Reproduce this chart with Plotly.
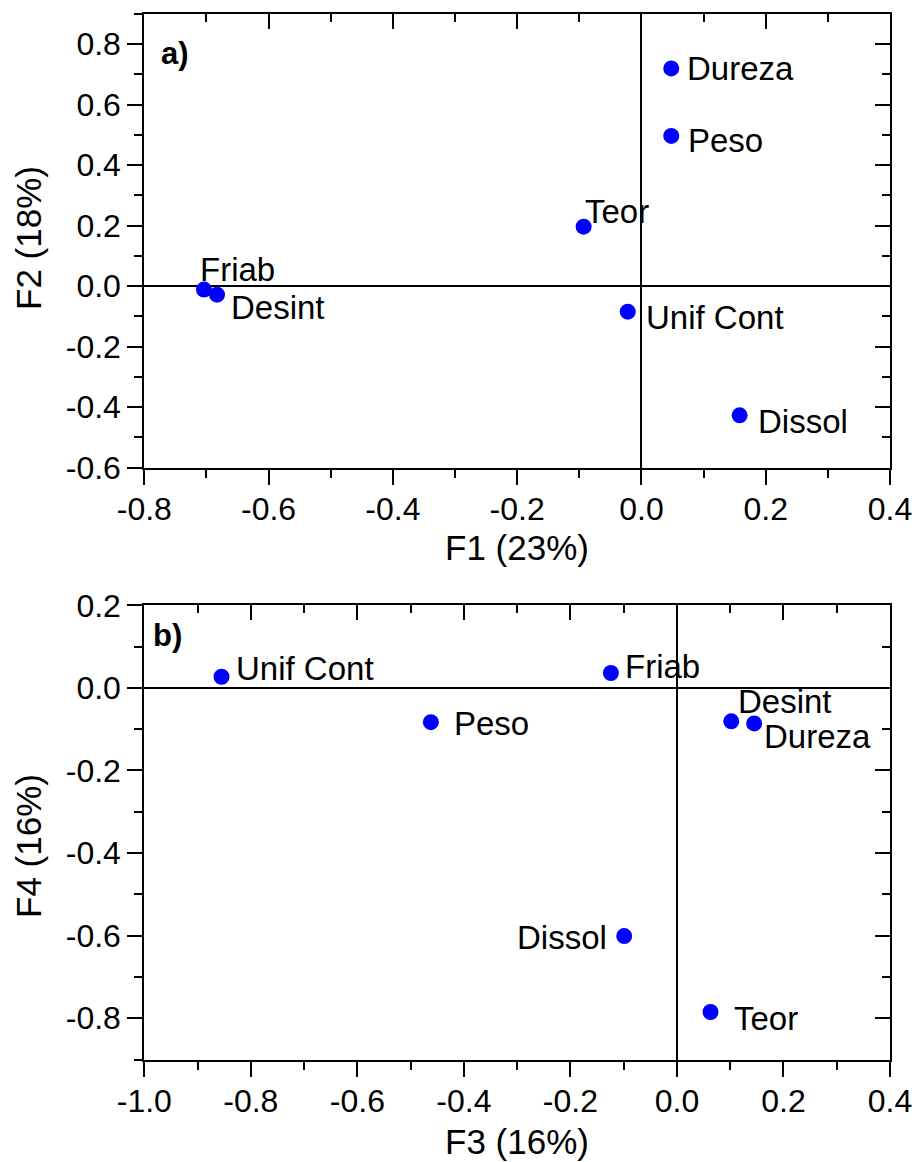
import plotly.graph_objects as go

# ---------------- data ----------------
labels_a = ["Dureza", "Peso", "Teor", "Friab", "Desint", "Unif Cont", "Dissol"]
f1 = [0.048, 0.048, -0.093, -0.704, -0.683, -0.022, 0.158]
f2 = [0.720, 0.497, 0.197, -0.011, -0.028, -0.084, -0.427]

labels_b = ["Unif Cont", "Peso", "Friab", "Desint", "Dureza", "Dissol", "Teor"]
f3 = [-0.855, -0.462, -0.124, 0.102, 0.145, -0.099, 0.063]
f4 = [0.027, -0.083, 0.036, -0.081, -0.086, -0.601, -0.785]

xa_ticks = [-0.8, -0.6, -0.4, -0.2, 0.0, 0.2, 0.4]
xa_text = ["-0.8", "-0.6", "-0.4", "-0.2", "0.0", "0.2", "0.4"]
ya_ticks = [-0.6, -0.4, -0.2, 0.0, 0.2, 0.4, 0.6, 0.8]
ya_text = ["-0.6", "-0.4", "-0.2", "0.0", "0.2", "0.4", "0.6", "0.8"]
xb_ticks = [-1.0, -0.8, -0.6, -0.4, -0.2, 0.0, 0.2, 0.4]
xb_text = ["-1.0", "-0.8", "-0.6", "-0.4", "-0.2", "0.0", "0.2", "0.4"]
yb_ticks = [-0.8, -0.6, -0.4, -0.2, 0.0, 0.2]
yb_text = ["-0.8", "-0.6", "-0.4", "-0.2", "0.0", "0.2"]

# ---------------- styles ----------------
FONT = "Arial, 'Liberation Sans', sans-serif"
W, H = 916, 1162
BLUE = "#0000FF"
TICK_SIZE = 32
LABEL_SIZE = 33
TITLE_SIZE = 35

# label placement (xanchor, dx px, dy px downward)
off_a = {
    "Dureza": ("left", 14, 0),
    "Peso": ("left", 15, 5),
    "Teor": ("left", -1, -15),
    "Friab": ("left", -6, -20),
    "Desint": ("left", 12, 13),
    "Unif Cont": ("left", 16, 6),
    "Dissol": ("left", 16, 6),
}
off_b = {
    "Unif Cont": ("left", 12, -8),
    "Peso": ("left", 21, 1),
    "Friab": ("left", 12, -7),
    "Desint": ("left", 5, -20),
    "Dureza": ("left", 8, 13),
    "Dissol": ("right", -15, 1),
    "Teor": ("left", 21, 6),
}

dom_x = [144.3 / W, 890 / W]
dom_ya = [1 - 467.7 / H, 1 - 14 / H]
dom_yb = [1 - 1059.5 / H, 1 - 605.3 / H]

fig = go.Figure()

fig.add_trace(go.Scatter(x=f1, y=f2, mode="markers", xaxis="x", yaxis="y",
                         marker=dict(color=BLUE, size=16), showlegend=False,
                         text=labels_a, hoverinfo="text"))
fig.add_trace(go.Scatter(x=f3, y=f4, mode="markers", xaxis="x2", yaxis="y2",
                         marker=dict(color=BLUE, size=16), showlegend=False,
                         text=labels_b, hoverinfo="text"))
# empty traces to activate mirrored tick axes
for xa, ya in [("x3", "y3"), ("x4", "y4")]:
    fig.add_trace(go.Scatter(x=[], y=[], xaxis=xa, yaxis=ya, showlegend=False,
                             hoverinfo="skip"))


def main_axis(domain, rng, tv, tt, anchor, standoff=0):
    return dict(domain=domain, range=rng, anchor=anchor, tickmode="array",
                tickvals=tv, ticktext=tt, ticks="outside", ticklen=15,
                tickwidth=2, tickcolor="black", showline=True, linewidth=2,
                linecolor="black", mirror=False, showgrid=False,
                zeroline=True, zerolinecolor="black", zerolinewidth=2,
                automargin=False, ticklabelstandoff=standoff,
                tickfont=dict(family=FONT, size=TICK_SIZE, color="black"),
                minor=dict(tickmode="linear", tick0=0, dtick=0.1,
                           ticks="outside", ticklen=8, tickwidth=2,
                           tickcolor="black", showgrid=False),
                fixedrange=True)


def mirror_axis(rng, tv, overlaying, side, anchor):
    return dict(range=rng, overlaying=overlaying, side=side, anchor=anchor,
                tickmode="array", tickvals=tv, ticks="inside", ticklen=15,
                tickwidth=2, tickcolor="black", showticklabels=False,
                showline=True, linewidth=2, linecolor="black",
                showgrid=False, zeroline=False, automargin=False,
                minor=dict(tickmode="linear", tick0=0, dtick=0.1,
                           ticks="inside", ticklen=8, tickwidth=2,
                           tickcolor="black", showgrid=False),
                fixedrange=True)


fig.update_layout(
    width=W, height=H, margin=dict(l=0, r=0, t=0, b=0, autoexpand=False),
    paper_bgcolor="white", plot_bgcolor="white", showlegend=False,
    font=dict(family=FONT, color="black"),
    xaxis=main_axis(dom_x, [-0.8, 0.4], xa_ticks, xa_text, "y", -3),
    yaxis=main_axis(dom_ya, [-0.6, 0.9], ya_ticks, ya_text, "x"),
    xaxis2=main_axis(dom_x, [-1.0, 0.4], xb_ticks, xb_text, "y2", -3),
    yaxis2=main_axis(dom_yb, [-0.9, 0.2], yb_ticks, yb_text, "x2"),
    xaxis3=mirror_axis([-0.8, 0.4], xa_ticks, "x", "top", "y3"),
    yaxis3=mirror_axis([-0.6, 0.9], ya_ticks, "y", "right", "x3"),
    xaxis4=mirror_axis([-1.0, 0.4], xb_ticks, "x2", "top", "y4"),
    yaxis4=mirror_axis([-0.9, 0.2], yb_ticks, "y2", "right", "x4"),
)

ann = []
for lab, x, y in zip(labels_a, f1, f2):
    xa, dx, dy = off_a[lab]
    ann.append(dict(x=x, y=y, xref="x", yref="y", text=lab, showarrow=False,
                    xanchor=xa, yanchor="middle", xshift=dx, yshift=-dy,
                    font=dict(family=FONT, size=LABEL_SIZE, color="black")))
for lab, x, y in zip(labels_b, f3, f4):
    xa, dx, dy = off_b[lab]
    ann.append(dict(x=x, y=y, xref="x2", yref="y2", text=lab, showarrow=False,
                    xanchor=xa, yanchor="middle", xshift=dx, yshift=-dy,
                    font=dict(family=FONT, size=LABEL_SIZE, color="black")))

# panel letters
ann.append(dict(x=159 / W, y=1 - 54 / H, xref="paper", yref="paper",
                text="<b>a)</b>", showarrow=False, xanchor="left", yanchor="middle",
                font=dict(family=FONT, size=31, color="black")))
ann.append(dict(x=151 / W, y=1 - 635 / H, xref="paper", yref="paper",
                text="<b>b)</b>", showarrow=False, xanchor="left", yanchor="middle",
                font=dict(family=FONT, size=31, color="black")))

# axis titles
title_font = dict(family=FONT, size=TITLE_SIZE, color="black")
ann.append(dict(x=517 / W, y=1 - 547 / H, xref="paper", yref="paper",
                text="F1 (23%)", showarrow=False, xanchor="center", yanchor="middle",
                font=title_font))
ann.append(dict(x=517 / W, y=1 - 1141 / H, xref="paper", yref="paper",
                text="F3 (16%)", showarrow=False, xanchor="center", yanchor="middle",
                font=title_font))
ann.append(dict(x=28 / W, y=1 - 238 / H, xref="paper", yref="paper",
                text="F2 (18%)", showarrow=False, xanchor="center", yanchor="middle",
                textangle=-90, font=title_font))
ann.append(dict(x=28 / W, y=1 - 846 / H, xref="paper", yref="paper",
                text="F4 (16%)", showarrow=False, xanchor="center", yanchor="middle",
                textangle=-90, font=title_font))

fig.update_layout(annotations=ann)
fig.write_html("out.html")
